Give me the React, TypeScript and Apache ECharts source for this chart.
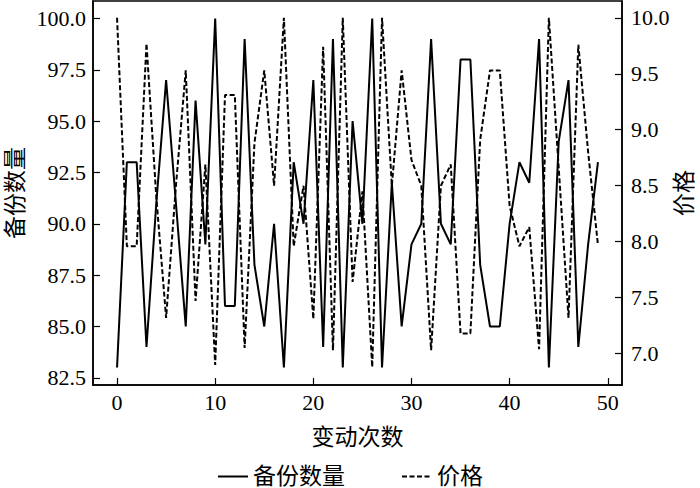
import React, { useEffect, useRef } from "react";
import * as echarts from "echarts";

const backupCounts = [
  83, 93, 93, 84, 91, 97, 91, 85, 96, 89,
  100, 86, 86, 99, 88, 85, 90, 83, 93, 90,
  97, 84, 99, 83, 95, 90, 100, 83, 92, 85,
  89, 90, 99, 90, 89, 98, 98, 88, 85, 85,
  90, 93, 92, 99, 83, 94, 97, 84, 89, 93,
];
const prices = [
  10.0, 7.96, 7.96, 9.77, 8.4, 7.32, 8.5, 9.53, 7.47, 8.69,
  6.9, 9.31, 9.31, 7.05, 8.88, 9.53, 8.5, 10.0, 7.96, 8.5,
  7.31, 9.74, 7.03, 10.0, 7.64, 8.45, 6.88, 10.0, 8.5, 9.53,
  8.73, 8.5, 7.03, 8.5, 8.69, 7.18, 7.18, 8.91, 9.53, 9.53,
  8.32, 7.96, 8.13, 7.04, 10.0, 8.66, 7.32, 9.76, 8.8, 7.97,
];
const xTicks = [0, 10, 20, 30, 40, 50];
const leftTicks = [82.5, 85, 87.5, 90, 92.5, 95, 97.5, 100];
const rightTicks = [7.0, 7.5, 8.0, 8.5, 9.0, 9.5, 10.0];

const NUM_FONT = "Times New Roman, Liberation Serif, serif";
const CJK_FONT = "Times New Roman, Liberation Serif, Noto Sans CJK SC, serif";

export default function App() {
  const ref = useRef<HTMLDivElement>(null);
  useEffect(() => {
    if (!ref.current) return;
    const chart = echarts.init(ref.current, null, { renderer: "svg" });
    const labelStyle = { color: "#000", fontSize: 22, fontFamily: NUM_FONT };
    const nameStyle = { color: "#000", fontSize: 23, fontFamily: CJK_FONT };
    chart.setOption({
      animation: false,
      backgroundColor: "#fff",
      grid: {
        left: 93,
        right: 78,
        top: 1,
        bottom: 103,
        containLabel: false,
        outerBoundsMode: "none",
        show: true,
        borderColor: "#000",
        borderWidth: 1.5,
        backgroundColor: "transparent",
      },
      legend: {
        top: 460,
        left: "center",
        itemWidth: 30,
        itemHeight: 14,
        itemGap: 56,
        itemStyle: { color: "rgba(0,0,0,0)", borderWidth: 0, opacity: 0 },
        textStyle: { color: "#000", fontSize: 23, fontFamily: CJK_FONT },
        data: ["备份数量", "价格"],
      },
      xAxis: {
        type: "value",
        min: -2.45,
        max: 51.45,
        name: "变动次数",
        nameLocation: "middle",
        nameGap: 41,
        nameMoveOverlap: false,
        nameTextStyle: nameStyle,
        axisLine: { show: true, onZero: false, lineStyle: { color: "#000", width: 1.5 } },
        axisTick: { show: true, inside: true, length: 7, customValues: xTicks, lineStyle: { color: "#000", width: 1.2 } },
        axisLabel: { ...labelStyle, margin: 6, customValues: xTicks, formatter: (v: number) => String(v) },
        splitLine: { show: false },
      },
      yAxis: [
        {
          type: "value",
          position: "left",
          min: 82.15,
          max: 100.85,
          name: "备份数量",
          nameLocation: "middle",
          nameRotate: 90,
          nameGap: 66,
          nameMoveOverlap: false,
          nameTextStyle: nameStyle,
          axisLine: { show: true, onZero: false, lineStyle: { color: "#000", width: 1.5 } },
          axisTick: { show: true, inside: true, length: 7, customValues: leftTicks, lineStyle: { color: "#000", width: 1.2 } },
          axisLabel: { ...labelStyle, margin: 7, customValues: leftTicks, formatter: (v: number) => v.toFixed(1) },
          splitLine: { show: false },
        },
        {
          type: "value",
          position: "right",
          min: 6.72,
          max: 10.15,
          name: "价格",
          nameLocation: "middle",
          nameRotate: 90,
          nameGap: 51,
          nameMoveOverlap: false,
          nameTextStyle: nameStyle,
          axisLine: { show: true, onZero: false, lineStyle: { color: "#000", width: 1.5 } },
          axisTick: { show: true, inside: true, length: 7, customValues: rightTicks, lineStyle: { color: "#000", width: 1.2 } },
          axisLabel: { ...labelStyle, margin: 9, customValues: rightTicks, formatter: (v: number) => v.toFixed(1) },
          splitLine: { show: false },
        },
      ],
      series: [
        {
          name: "备份数量",
          type: "line",
          yAxisIndex: 0,
          symbol: "none",
          data: backupCounts.map((v, i) => [i, v]),
          lineStyle: { color: "#000", width: 2 },
          itemStyle: { color: "#000" },
        },
        {
          name: "价格",
          type: "line",
          yAxisIndex: 1,
          symbol: "none",
          data: prices.map((v, i) => [i, v]),
          lineStyle: { color: "#000", width: 2, type: [5, 2.5] },
          itemStyle: { color: "#000" },
        },
      ],
    });
    return () => chart.dispose();
  }, []);
  return (
    <div
      ref={ref}
      style={{ position: "fixed", left: 0, top: 0, width: 700, height: 488 }}
    />
  );
}
